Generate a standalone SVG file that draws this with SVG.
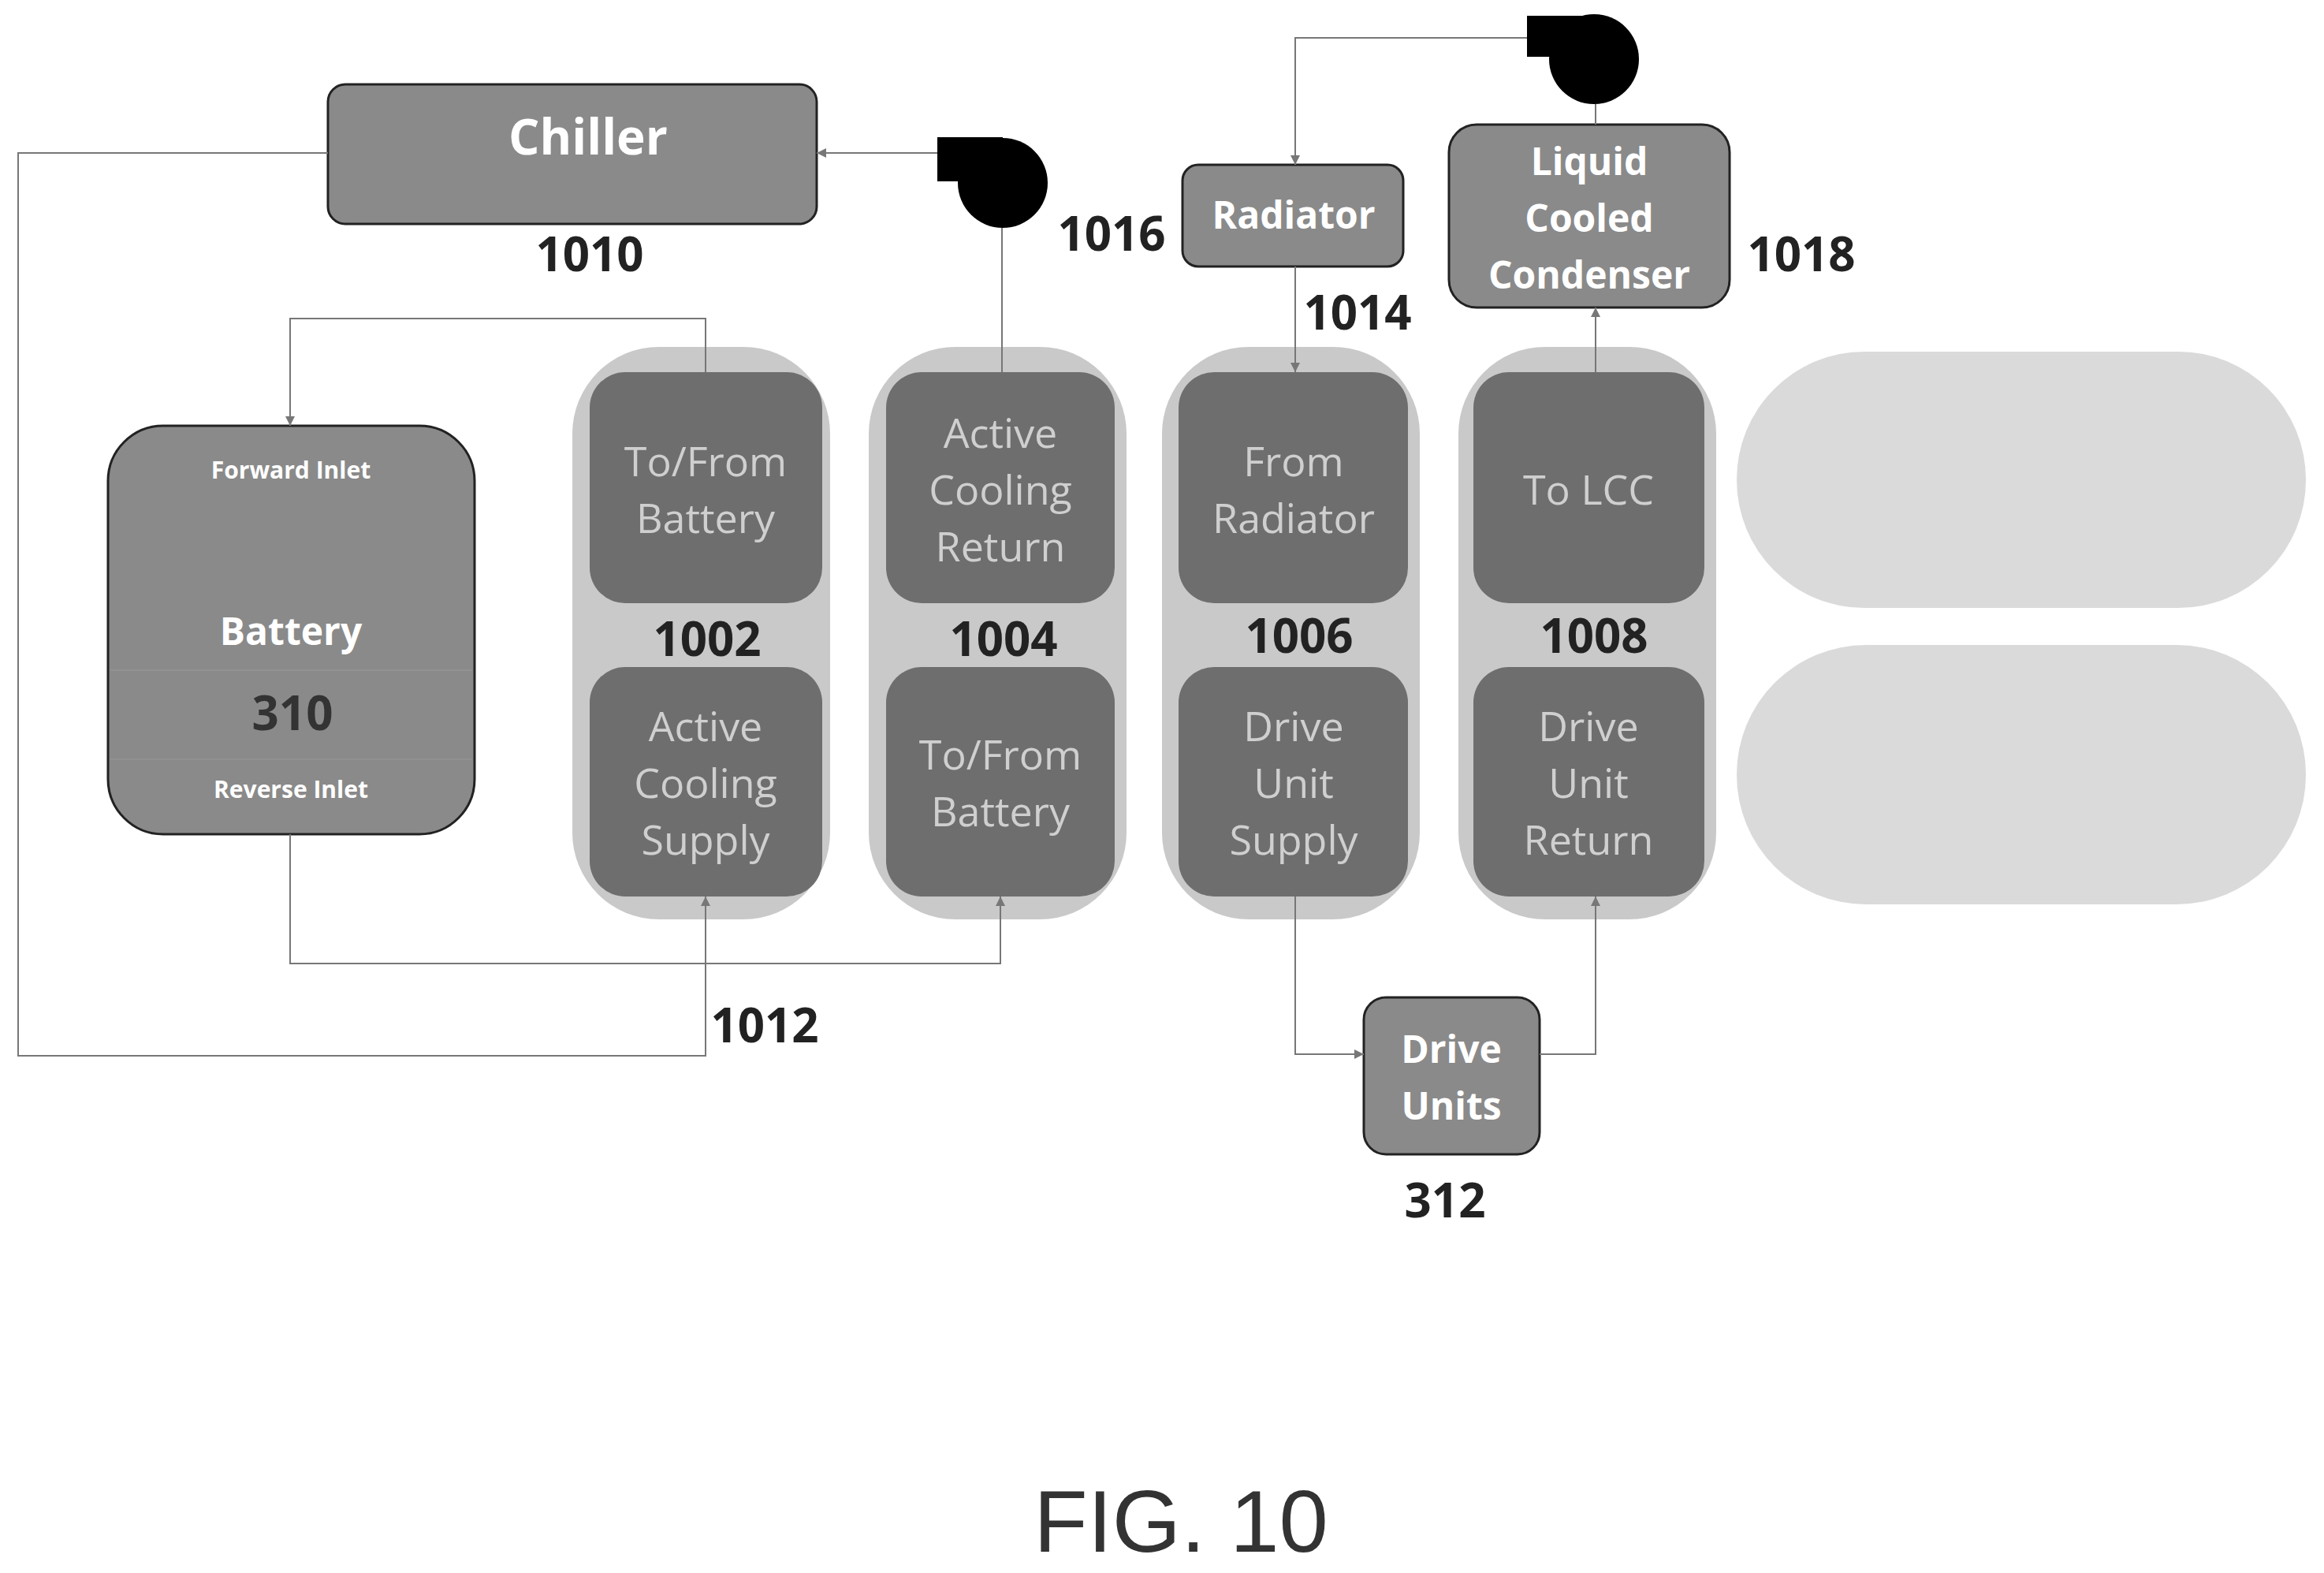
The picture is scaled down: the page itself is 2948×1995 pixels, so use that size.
<svg xmlns="http://www.w3.org/2000/svg" width="2948" height="1995" viewBox="0 0 2948 1995">
<style>
.bx{fill:#8a8a8a;stroke:#222;stroke-width:3}
.pill{fill:#c9c9c9}
.pill2{fill:#dadada}
.in{fill:#6e6e6e}
.wt{font-family:"Open Sans",sans-serif;font-weight:bold;fill:#fff;text-anchor:middle}
.it{font-family:"Open Sans",sans-serif;font-size:52px;fill:#cfcfcf;text-anchor:middle}
.num{font-family:"Open Sans",sans-serif;font-weight:bold;font-size:60px;fill:#222;text-anchor:middle}
.ln{fill:none;stroke:#777;stroke-width:2}
</style>
<defs>
<marker id="a" viewBox="0 0 10 10" refX="10" refY="5" markerWidth="12" markerHeight="12" markerUnits="userSpaceOnUse" orient="auto"><path d="M0,0L10,5L0,10z" fill="#777"/></marker>
</defs>
<rect width="2948" height="1995" fill="#fff"/>
<g id="pills-right">
<rect class="pill2" x="2203" y="446" width="722" height="325" rx="162"/>
<rect class="pill2" x="2203" y="818" width="722" height="329" rx="164"/>
</g>
<g id="col1002">
<rect class="pill" x="726" y="440" width="327" height="726" rx="110"/>
<rect class="in" x="748" y="472" width="295" height="293" rx="45"/>
<rect class="in" x="748" y="846" width="295" height="291" rx="45"/>
<text class="it" x="895" y="604">To/From</text><text class="it" x="895" y="676">Battery</text>
<text class="it" x="895" y="940">Active</text><text class="it" x="895" y="1012">Cooling</text><text class="it" x="895" y="1084">Supply</text>
<text class="num" x="897" y="832">1002</text>
</g>
<g id="col1004">
<rect class="pill" x="1102" y="440" width="327" height="726" rx="110"/>
<rect class="in" x="1124" y="472" width="290" height="293" rx="45"/>
<rect class="in" x="1124" y="846" width="290" height="291" rx="45"/>
<text class="it" x="1269" y="568">Active</text><text class="it" x="1269" y="640">Cooling</text><text class="it" x="1269" y="712">Return</text>
<text class="it" x="1269" y="976">To/From</text><text class="it" x="1269" y="1048">Battery</text>
<text class="num" x="1273" y="832">1004</text>
</g>
<g id="col1006">
<rect class="pill" x="1474" y="440" width="327" height="726" rx="110"/>
<rect class="in" x="1495" y="472" width="291" height="293" rx="45"/>
<rect class="in" x="1495" y="846" width="291" height="291" rx="45"/>
<text class="it" x="1641" y="604">From</text><text class="it" x="1641" y="676">Radiator</text>
<text class="it" x="1641" y="940">Drive</text><text class="it" x="1641" y="1012">Unit</text><text class="it" x="1641" y="1084">Supply</text>
<text class="num" x="1648" y="828">1006</text>
</g>
<g id="col1008">
<rect class="pill" x="1850" y="440" width="327" height="726" rx="110"/>
<rect class="in" x="1869" y="472" width="293" height="293" rx="45"/>
<rect class="in" x="1869" y="846" width="293" height="291" rx="45"/>
<text class="it" x="2015" y="640">To LCC</text>
<text class="it" x="2015" y="940">Drive</text><text class="it" x="2015" y="1012">Unit</text><text class="it" x="2015" y="1084">Return</text>
<text class="num" x="2022" y="828">1008</text>
</g>
<g id="chiller">
<rect class="bx" x="416" y="107" width="620" height="177" rx="22"/>
<text class="wt" x="746" y="196" font-size="62">Chiller</text>
<text class="num" x="748" y="344">1010</text>
</g>
<g id="battery">
<rect class="bx" x="137" y="540" width="465" height="518" rx="70"/>
<line x1="140" y1="850" x2="599" y2="850" stroke="#999" stroke-width="1"/>
<line x1="140" y1="963" x2="599" y2="963" stroke="#999" stroke-width="1"/>
<text class="wt" x="369" y="607" font-size="30">Forward Inlet</text>
<text class="wt" x="369" y="818" font-size="48">Battery</text>
<text x="371" y="926" font-family="Open Sans,sans-serif" font-weight="bold" font-size="60" fill="#333" text-anchor="middle">310</text>
<text class="wt" x="369" y="1012" font-size="30">Reverse Inlet</text>
</g>
<g id="radiator">
<rect class="bx" x="1500" y="209" width="280" height="129" rx="20"/>
<text class="wt" x="1641" y="290" font-size="48">Radiator</text>
<text class="num" x="1410" y="318">1016</text>
<text class="num" x="1722" y="418">1014</text>
</g>
<g id="lcc">
<rect class="bx" x="1838" y="158" width="356" height="232" rx="35"/>
<text class="wt" x="2016" y="222" font-size="48">Liquid</text>
<text class="wt" x="2016" y="294" font-size="48">Cooled</text>
<text class="wt" x="2016" y="366" font-size="48">Condenser</text>
<text class="num" x="2285" y="344">1018</text>
</g>
<g id="driveunits">
<rect class="bx" x="1730" y="1265" width="223" height="199" rx="28"/>
<text class="wt" x="1841" y="1348" font-size="48">Drive</text>
<text class="wt" x="1841" y="1420" font-size="48">Units</text>
<text class="num" x="1833" y="1544">312</text>
</g>
<g id="pump1">
<rect x="1189" y="174" width="83" height="56" fill="#000"/>
<circle cx="1272" cy="232" r="57" fill="#000"/>
</g>
<g id="pump2">
<rect x="1937" y="20" width="85" height="52" fill="#000"/>
<circle cx="2022" cy="75" r="57" fill="#000"/>
</g>
<g id="connectors">
<path class="ln" d="M416,194H23V1339H895V1137" marker-end="url(#a)"/>
<path class="ln" d="M895,472V404H368V540" marker-end="url(#a)"/>
<path class="ln" d="M368,1058V1222H1269V1137" marker-end="url(#a)"/>
<path class="ln" d="M1189,194H1036" marker-end="url(#a)"/>
<path class="ln" d="M1271,289V472"/>
<path class="ln" d="M1937,48H1643V209" marker-end="url(#a)"/>
<path class="ln" d="M1643,338V472" marker-end="url(#a)"/>
<path class="ln" d="M2024,472V390" marker-end="url(#a)"/>
<path class="ln" d="M2024,158V132"/>
<path class="ln" d="M1643,1137V1337H1730" marker-end="url(#a)"/>
<path class="ln" d="M1953,1337H2024V1137" marker-end="url(#a)"/>
<text class="num" x="970" y="1322">1012</text>
</g>
<text x="1498" y="1968" font-family="Liberation Sans,Arial,sans-serif" font-size="112" fill="#333" text-anchor="middle">FIG. 10</text>
</svg>
